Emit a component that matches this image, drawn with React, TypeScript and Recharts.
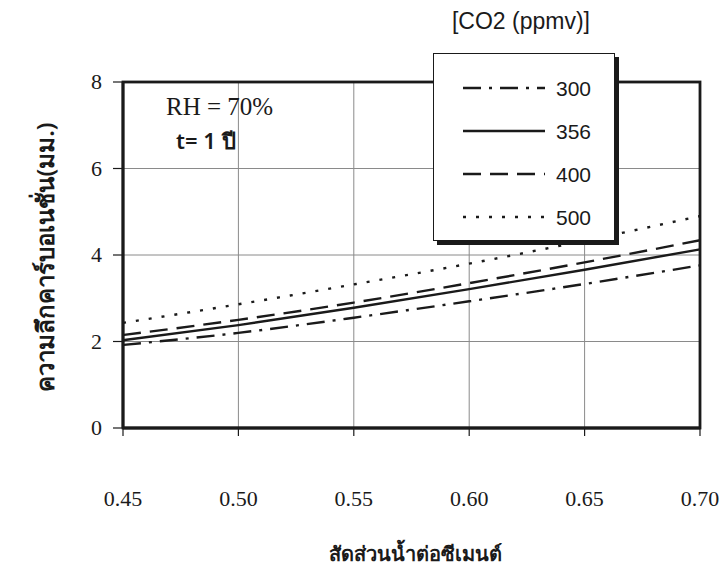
import React from 'react'
import {
  LineChart,
  Line,
  XAxis,
  YAxis,
  CartesianGrid,
} from 'recharts'

// water/cement ratio
const wcRatio = [0.45, 0.5, 0.55, 0.6, 0.65, 0.7]

// carbonation depth (mm) for each CO2 level
const co2_300 = [1.92, 2.2, 2.55, 2.93, 3.33, 3.76]
const co2_356 = [2.03, 2.38, 2.78, 3.21, 3.66, 4.13]
const co2_400 = [2.15, 2.5, 2.9, 3.35, 3.83, 4.34]
const co2_500 = [2.43, 2.86, 3.32, 3.8, 4.33, 4.9]

const xTicks = [0.45, 0.5, 0.55, 0.6, 0.65, 0.7]
const yTicks = [0, 2, 4, 6, 8]
const xGrid = [0.5, 0.55, 0.6, 0.65]
const yGrid = [2, 4, 6]

const seriesInfo = [
  { key: 's300', label: '300', dash: '18 8 3 8' },
  { key: 's356', label: '356', dash: undefined },
  { key: 's400', label: '400', dash: '18 9' },
  { key: 's500', label: '500', dash: '3 10' },
]

const data = wcRatio.map((x, i) => ({
  x,
  s300: co2_300[i],
  s356: co2_356[i],
  s400: co2_400[i],
  s500: co2_500[i],
}))

const W = 720
const H = 588
const M_TOP = 82
const M_RIGHT = 20
const Y_W = 123
const X_H = 160

const INK = '#1a1a1a'
const SERIF = '"Liberation Serif", "DejaVu Serif", serif'
const SANS = '"Noto Sans", "DejaVu Sans", sans-serif'
const NARROW = '"Liberation Sans Narrow", "Liberation Sans", sans-serif'
const FRAME = 2.8

const XTick = (props: any) => {
  const { x, y, payload } = props
  return (
    <text x={x} y={y + 68} textAnchor="middle" fontFamily={SERIF} fontSize={22} fill={INK}>
      {payload.value.toFixed(2)}
    </text>
  )
}

const YTick = (props: any) => {
  const { x, y, payload } = props
  return (
    <text x={x - 9} y={y + 7} textAnchor="end" fontFamily={SERIF} fontSize={22} fill={INK}>
      {payload.value}
    </text>
  )
}

// heavy border round the plotting area
function PlotFrame() {
  return (
    <svg
      width={W}
      height={H}
      style={{ position: 'absolute', left: 0, top: 0, pointerEvents: 'none' }}
    >
      <rect
        x={Y_W}
        y={M_TOP}
        width={W - M_RIGHT - Y_W}
        height={H - X_H - M_TOP}
        fill="none"
        stroke={INK}
        strokeWidth={FRAME}
      />
    </svg>
  )
}

function LegendBox() {
  return (
    <div
      style={{
        position: 'absolute',
        left: 433,
        top: 53,
        width: 180,
        height: 186,
        background: '#fff',
        border: `1.5px solid ${INK}`,
        boxShadow: `4px 4px 0 ${INK}`,
      }}
    >
      <svg width={180} height={186}>
        {seriesInfo.map((s, i) => {
          const cy = 34 + i * 43
          return (
            <g key={s.key}>
              <line
                x1={29}
                x2={111}
                y1={cy}
                y2={cy}
                stroke={INK}
                strokeWidth={2.4}
                strokeDasharray={s.dash}
              />
              <text x={122} y={cy + 8} fontFamily={NARROW} fontSize={21} fill={INK}>
                {s.label}
              </text>
            </g>
          )
        })}
      </svg>
    </div>
  )
}

export default function App() {
  return (
    <div style={{ position: 'absolute', left: 0, top: 0, width: W, height: H, background: '#fff' }}>
      <LineChart
        width={W}
        height={H}
        data={data}
        margin={{ top: M_TOP, right: M_RIGHT, left: 0, bottom: 0 }}
      >
        <CartesianGrid stroke="#8a8a8a" horizontalValues={yGrid} verticalValues={xGrid} />
        <XAxis
          dataKey="x"
          type="number"
          domain={[0.45, 0.7]}
          ticks={xTicks}
          height={X_H}
          axisLine={{ stroke: INK, strokeWidth: FRAME }}
          tickLine={{ stroke: INK, strokeWidth: 1.2 }}
          tickSize={8}
          tick={<XTick />}
        />
        <YAxis
          type="number"
          domain={[0, 8]}
          ticks={yTicks}
          width={Y_W}
          axisLine={{ stroke: INK, strokeWidth: FRAME }}
          tickLine={{ stroke: INK, strokeWidth: 1.2 }}
          tickSize={10}
          tick={<YTick />}
        />
        {seriesInfo.map((s) => (
          <Line
            key={s.key}
            type="monotone"
            dataKey={s.key}
            stroke={INK}
            strokeWidth={2.4}
            strokeDasharray={s.dash}
            dot={false}
            isAnimationActive={false}
          />
        ))}
      </LineChart>

      <PlotFrame />
      <LegendBox />

      <div
        style={{
          position: 'absolute',
          left: 521,
          top: 8,
          transform: 'translateX(-50%)',
          fontFamily: NARROW,
          fontSize: 23,
          color: INK,
          whiteSpace: 'nowrap',
        }}
      >
        [CO2 (ppmv)]
      </div>

      <div style={{ position: 'absolute', left: 166, top: 93, fontFamily: SERIF, fontSize: 25, color: INK, whiteSpace: 'nowrap' }}>
        RH = 70%
      </div>
      <div
        style={{
          position: 'absolute',
          left: 176,
          top: 124,
          fontFamily: SANS,
          fontSize: 22,
          fontWeight: 600,
          color: INK,
          whiteSpace: 'nowrap',
        }}
      >
        t= 1 ปี
      </div>

      <div
        style={{
          position: 'absolute',
          left: 45,
          top: 257,
          transform: 'translate(-50%, -50%) rotate(-90deg)',
          fontFamily: SANS,
          fontSize: 24,
          fontWeight: 600,
          color: INK,
          whiteSpace: 'nowrap',
        }}
      >
        ความลึกคาร์บอเนชั่น(มม.)
      </div>

      <div
        style={{
          position: 'absolute',
          left: 415,
          top: 554,
          transform: 'translate(-50%, -50%)',
          fontFamily: SANS,
          fontSize: 20,
          fontWeight: 600,
          color: INK,
          whiteSpace: 'nowrap',
        }}
      >
        สัดส่วนน้ำต่อซีเมนต์
      </div>
    </div>
  )
}
